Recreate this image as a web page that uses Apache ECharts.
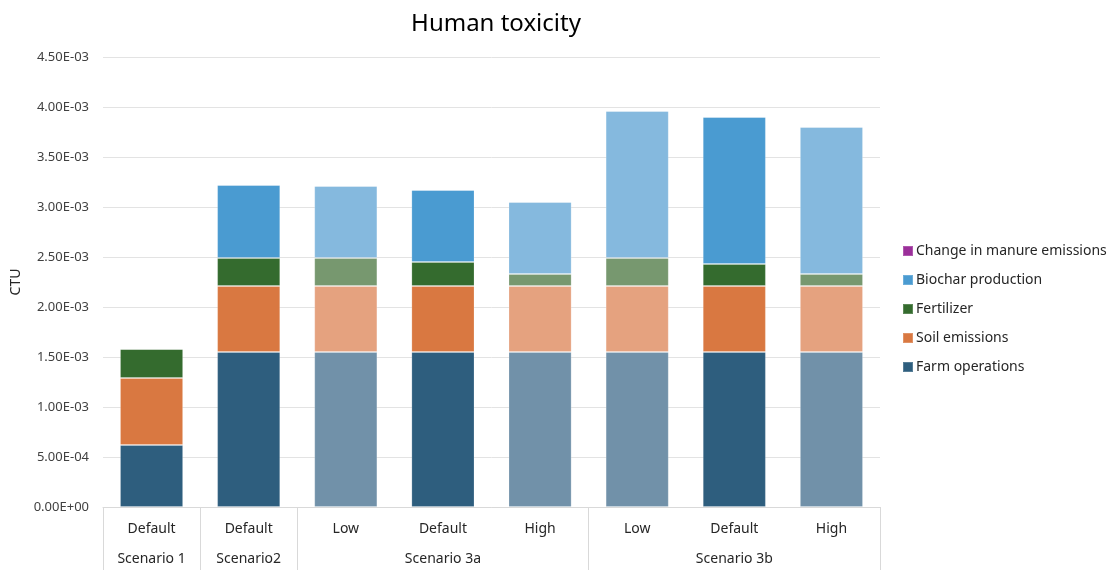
<!DOCTYPE html>
<html>
<head>
<meta charset="utf-8">
<script src="https://cdn.jsdelivr.net/npm/echarts@6/dist/echarts.min.js"></script>
<style>html,body{margin:0;padding:0;background:#fff}#c{width:1115px;height:570px}</style>
</head>
<body>
<div id="c"></div>
<script>
const levels = ['Default','Default','Low','Default','High','Low','Default','High'];
const groups = ['Scenario 1','Scenario2','','Scenario 3a','','','Scenario 3b',''];
const groupStarts = [0,1,2,5];
const farmOperations = [0.00062,0.00155,0.00155,0.00155,0.00155,0.00155,0.00155,0.00155];
const soilEmissions  = [0.00067,0.00066,0.00066,0.00066,0.00066,0.00066,0.00066,0.00066];
const fertilizer     = [0.00029,0.00028,0.00028,0.00024,0.00012,0.00028,0.00022,0.00012];
const biochar        = [0,0.00073,0.00072,0.00072,0.00072,0.00147,0.00147,0.00147];
const manure         = [0,0,0,0,0,0,0,0];
const yTicks = ['0.00E+00','5.00E-04','1.00E-03','1.50E-03','2.00E-03','2.50E-03','3.00E-03','3.50E-03','4.00E-03','4.50E-03'];

const FONT = 'Noto Sans';
const colors = {
  farm: ['#2E5E7E', '#7191A9'],
  soil: ['#D97841', '#E5A27F'],
  fert: ['#346B2E', '#77986F'],
  bio:  ['#4A9BD1', '#85B9DE'],
  man:  ['#9B2F9A', '#C382C2']
};
function mk(name, vals, key) {
  return {
    name: name, type: 'bar', stack: 'total', barWidth: '65%',
    itemStyle: { color: colors[key][0], borderColor: 'rgba(255,255,255,0.2)', borderWidth: 1 },
    data: vals.map((v, i) => ({
      value: v,
      itemStyle: { color: colors[key][(levels[i] === 'Low' || levels[i] === 'High') ? 1 : 0] }
    }))
  };
}
const chart = echarts.init(document.getElementById('c'), null, { renderer: 'canvas' });
chart.setOption({
  animation: false,
  textStyle: { fontFamily: FONT },
  title: {
    text: 'Human toxicity', left: 491, top: 7, textAlign: 'center',
    textStyle: { fontFamily: FONT, fontSize: 24, fontWeight: 'normal', color: '#000' }
  },
  grid: { left: 103, right: 235, top: 57, bottom: 63, containLabel: false },
  legend: {
    orient: 'vertical', left: 897, top: 239, itemGap: 15, itemWidth: 10, itemHeight: 10,
    icon: 'rect',
    textStyle: { fontFamily: FONT, fontSize: 14, color: '#262626', padding: [0,0,0,-2] },
    data: ['Change in manure emissions','Biochar production','Fertilizer','Soil emissions','Farm operations']
  },
  xAxis: [
    {
      type: 'category', data: levels, position: 'bottom',
      axisLine: { show: true, lineStyle: { color: '#d9d9d9' } },
      axisTick: { show: false },
      axisLabel: { margin: 15, fontSize: 14, color: '#262626', fontFamily: FONT, interval: 0 }
    },
    {
      type: 'category', data: groups, position: 'bottom',
      axisLine: { show: false },
      axisTick: {
        show: true, length: 63, alignWithLabel: false,
        interval: (i) => groupStarts.indexOf(i) >= 0,
        lineStyle: { color: '#d9d9d9' }
      },
      axisLabel: { margin: 45, fontSize: 14, color: '#262626', fontFamily: FONT, interval: 0 }
    }
  ],
  yAxis: {
    type: 'value', min: 0, max: 0.0045, interval: 0.0005,
    name: 'CTU', nameLocation: 'middle', nameGap: 74,
    nameTextStyle: { fontFamily: FONT, fontSize: 14, color: '#262626' },
    axisLine: { show: false }, axisTick: { show: false },
    splitLine: { lineStyle: { color: '#e3e3e3' } },
    axisLabel: {
      margin: 14, fontSize: 13, color: '#404040', fontFamily: FONT,
      formatter: (v) => yTicks[Math.round(v / 0.0005)]
    }
  },
  series: [
    mk('Farm operations', farmOperations, 'farm'),
    mk('Soil emissions', soilEmissions, 'soil'),
    mk('Fertilizer', fertilizer, 'fert'),
    mk('Biochar production', biochar, 'bio'),
    mk('Change in manure emissions', manure, 'man')
  ]
});
</script>
</body>
</html>
